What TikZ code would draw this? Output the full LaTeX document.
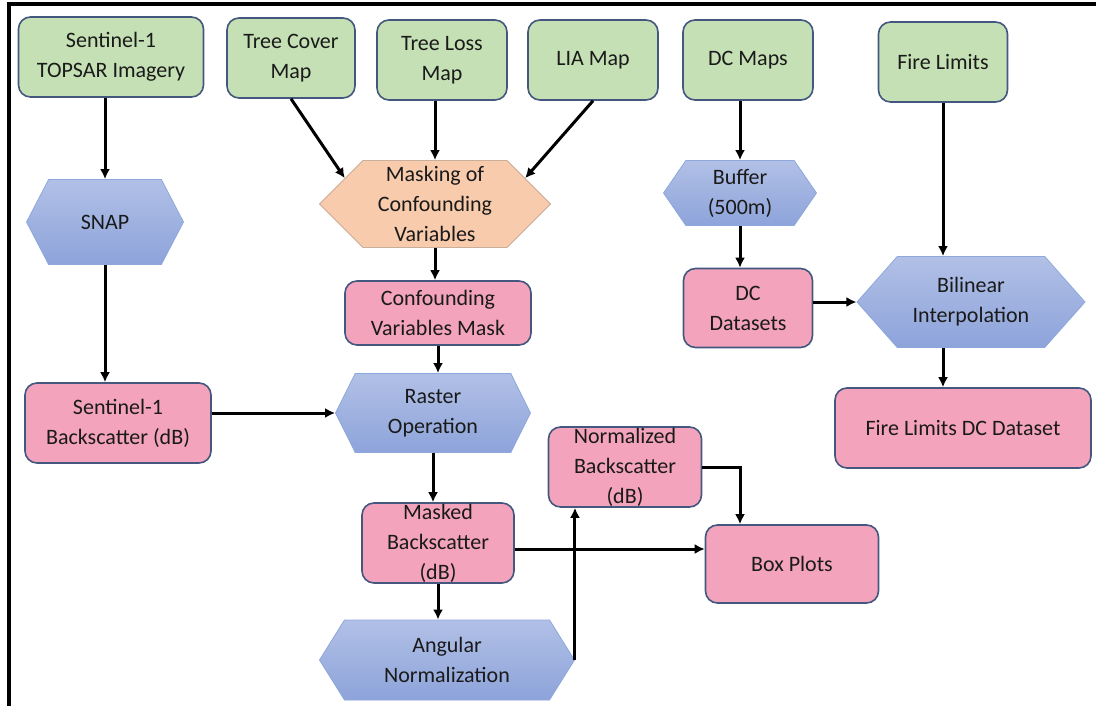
\documentclass[tikz,border=0pt]{standalone}
\usepackage{fontspec}
\setmainfont{Carlito}
\usetikzlibrary{shapes.symbols,arrows.meta}

\definecolor{inputgreen}{HTML}{C5E0B4}
\definecolor{datapink}{HTML}{F4A3BC}
\definecolor{maskorange}{HTML}{F8CBAD}
\definecolor{maskline}{HTML}{C9AE9C}
\definecolor{proctop}{HTML}{B1C0E6}
\definecolor{procbottom}{HTML}{8DA3DA}
\definecolor{boxline}{HTML}{43577F}
\definecolor{hexline}{HTML}{8FA8DC}
\definecolor{ink}{HTML}{1A1A1A}

\tikzset{
  box/.style={draw=boxline, line width=1.6pt, rounded corners=12pt, align=center,
    inner sep=0pt, text=ink, font=\fontsize{22}{30}\selectfont},
  source/.style={box, fill=inputgreen},
  product/.style={box, fill=datapink},
  process/.style={signal, signal to=east and west, draw=hexline, line width=0.8pt,
    top color=proctop, bottom color=procbottom, align=center, inner sep=0pt,
    text=ink, font=\fontsize{22}{30}\selectfont},
  flow/.style={-{Latex[length=10pt,width=10pt]}, line width=3pt},
}

\begin{document}
\begin{tikzpicture}[x=1pt,y=-1pt]
  \useasboundingbox (0,0) rectangle (1096,706);
  % Frame
  \draw[line width=3.5pt] (9,706) -- (9,4) -- (1096,4);

  % Inputs
  \node[source, minimum width=185pt, minimum height=80pt] (s1img) at (111,57) {Sentinel-1\\TOPSAR Imagery};
  \node[source, minimum width=128pt, minimum height=80pt] (tcover) at (291,58) {Tree Cover\\Map};
  \node[source, minimum width=130pt, minimum height=80pt] (tloss) at (442,60) {Tree Loss\\Map};
  \node[source, minimum width=130pt, minimum height=80pt] (lia) at (593,60) {LIA Map};
  \node[source, minimum width=130pt, minimum height=80pt] (dcmaps) at (748,60) {DC Maps};
  \node[source, minimum width=129pt, minimum height=80pt] (fire) at (943,62) {Fire Limits};

  % Processes
  \node[process, minimum width=157pt, minimum height=85pt, signal pointer angle=125] (snap) at (105,222) {SNAP};
  \node[process, minimum width=231pt, minimum height=87pt, signal pointer angle=90,
    draw=maskline, fill=maskorange, top color=maskorange, bottom color=maskorange] (masking) at (435,204) {Masking of\\Confounding\\Variables};
  \node[process, minimum width=153pt, minimum height=65pt, signal pointer angle=111] (buffer) at (740,193) {Buffer\\(500m)};
  \node[process, minimum width=228pt, minimum height=91pt, signal pointer angle=97] (bilinear) at (971,302) {Bilinear\\Interpolation};
  \node[process, minimum width=195pt, minimum height=79pt, signal pointer angle=127] (raster) at (433,413) {Raster\\Operation};
  \node[process, minimum width=255pt, minimum height=80pt, signal pointer angle=116] (angular) at (447,660) {Angular\\Normalization};

  % Products
  \node[product, minimum width=186pt, minimum height=64pt] (cmask) at (438,313) {Confounding\\Variables Mask};
  \node[product, minimum width=129pt, minimum height=79pt] (dcsets) at (748,308) {DC\\Datasets};
  \node[product, minimum width=256pt, minimum height=80pt] (fldc) at (963,428) {Fire Limits DC Dataset};
  \node[product, minimum width=186pt, minimum height=80pt] (s1bs) at (118,423) {Sentinel-1\\Backscatter (dB)};
  \node[product, minimum width=152pt, minimum height=80pt] (masked) at (438,543) {Masked\\Backscatter\\(dB)};
  \node[product, minimum width=153pt, minimum height=80pt] (normbs) at (625,467) {Normalized\\Backscatter\\(dB)};
  \node[product, minimum width=173pt, minimum height=78pt] (boxplots) at (792,564) {Box Plots};

  % Arrows
  \draw[flow] (snap.north |- s1img.south) -- (snap.north);
  \draw[flow] (snap.south) -- (snap.south |- s1bs.north);
  \draw[flow] (tcover.south) -- (masking.164);
  \draw[flow] (masking.north |- tloss.south) -- (masking.north);
  \draw[flow] (lia.south) -- (masking.16);
  \draw[flow] (masking.south) -- (masking.south |- cmask.north);
  \draw[flow] (cmask.south) -- (cmask.south |- raster.north);
  \draw[flow] (raster.west -| s1bs.east) -- (raster.west);
  \draw[flow] (raster.south) -- (raster.south |- masked.north);
  \draw[flow] (masked.south) -- (masked.south |- angular.north);
  \draw[flow] ([yshift=-6pt]masked.east) -- ([yshift=-6pt]masked.east -| boxplots.west);
  \draw[flow] (angular.east) -- (angular.east |- normbs.south);
  \draw[flow] (normbs.east) -| ([xshift=-52pt]boxplots.north);
  \draw[flow] (buffer.north |- dcmaps.south) -- (buffer.north);
  \draw[flow] (buffer.south) -- (buffer.south |- dcsets.north);
  \draw[flow] (dcsets.east |- bilinear.west) -- (bilinear.west);
  \draw[flow] (fire.south) -- (fire.south |- bilinear.north);
  \draw[flow] (fire.south |- bilinear.south) -- (fire.south |- fldc.north);
\end{tikzpicture}
\end{document}
